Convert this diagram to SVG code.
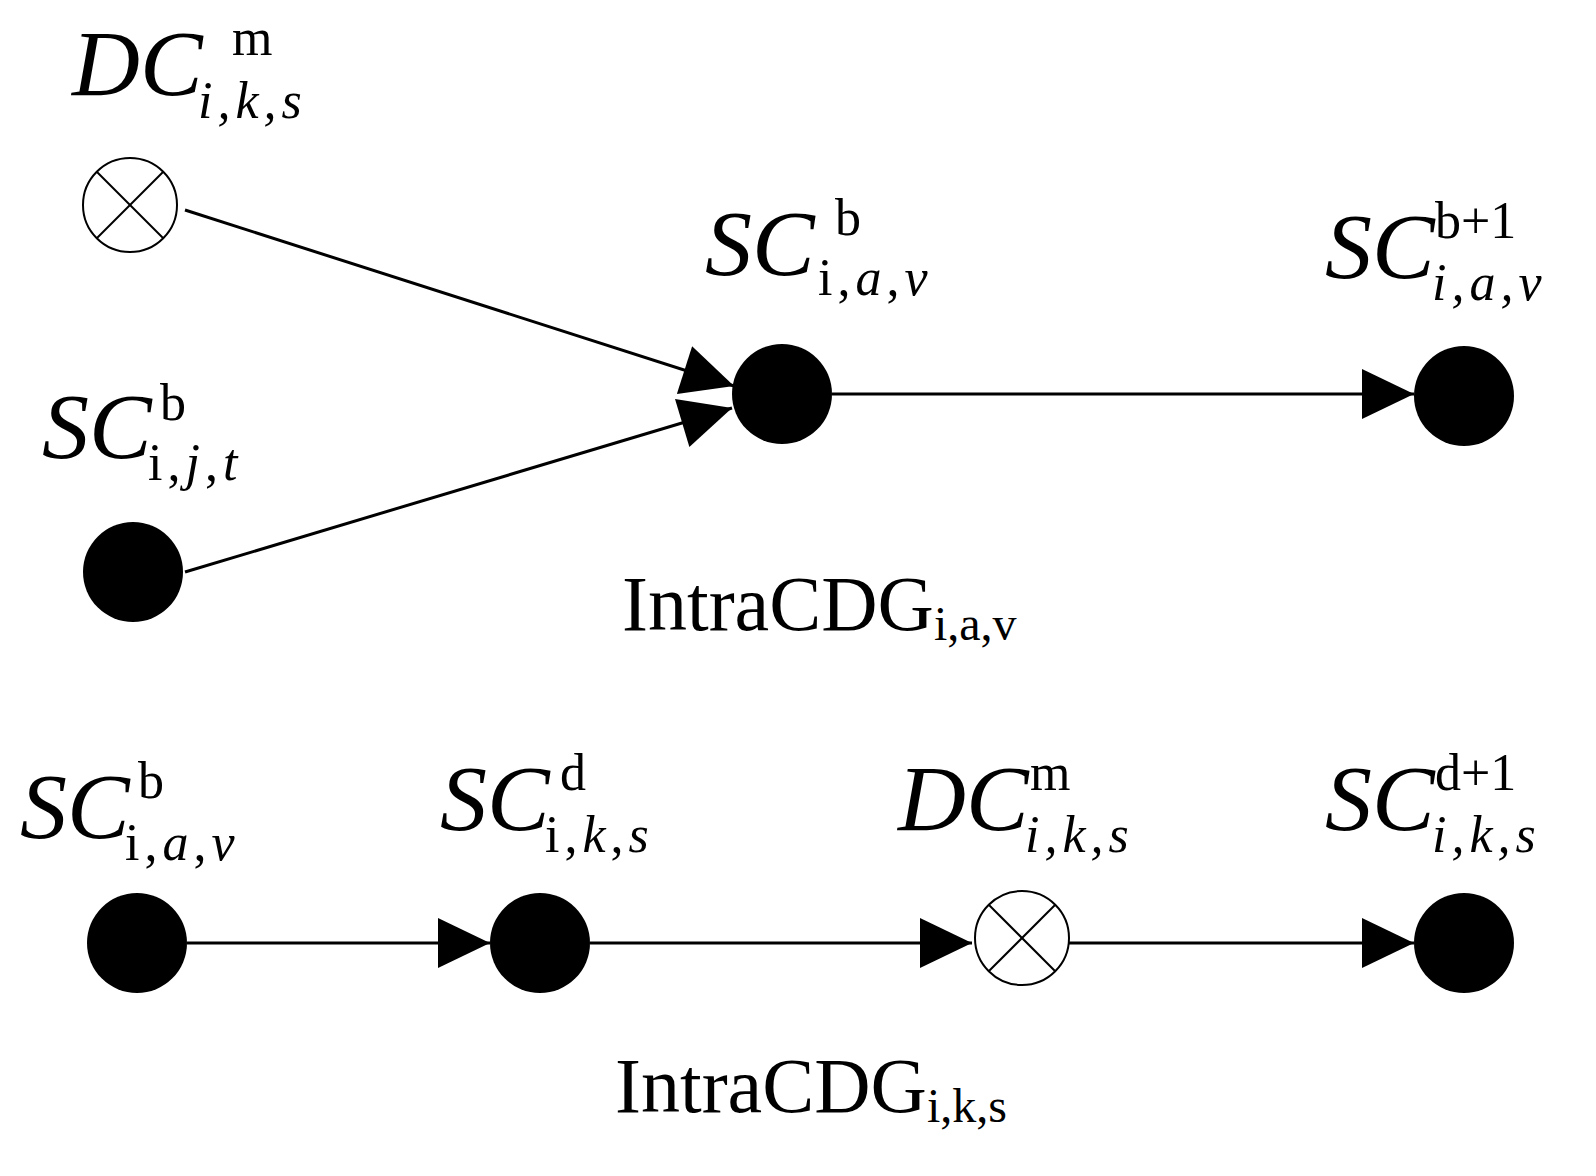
<svg xmlns="http://www.w3.org/2000/svg" width="1596" height="1176" viewBox="0 0 1596 1176">
<style>
.t{font-family:"Liberation Serif",serif;fill:#000}
.big{font-size:94px;font-style:italic}
.sup{font-size:52px}
.sub{font-size:52px;letter-spacing:5px}
.it{font-style:italic}
.lab{font-size:78px}
.lsub{font-size:48px}
.e{stroke:#000;stroke-width:3;fill:none}
.n{fill:#000}
.x{fill:#fff;stroke:#000;stroke-width:2}
</style>
<defs>
<marker id="a" markerUnits="userSpaceOnUse" markerWidth="56" markerHeight="54" refX="54" refY="27" orient="auto" viewBox="0 0 56 54"><path d="M2,2 L54,27 L2,52 Z" fill="#000"/></marker>
</defs>
<g id="edges">
<line class="e" x1="185" y1="210" x2="734" y2="386" marker-end="url(#a)"/>
<line class="e" x1="185" y1="572" x2="732" y2="408" marker-end="url(#a)"/>
<line class="e" x1="832" y1="394" x2="1414" y2="394" marker-end="url(#a)"/>
<line class="e" x1="187" y1="943" x2="490" y2="943" marker-end="url(#a)"/>
<line class="e" x1="590" y1="943" x2="972" y2="943" marker-end="url(#a)"/>
<line class="e" x1="1069" y1="943" x2="1414" y2="943" marker-end="url(#a)"/>
</g>
<g id="dc_top"><circle class="x" cx="130" cy="205" r="47"/><line x1="97" y1="172" x2="163" y2="238" stroke="#000" stroke-width="2"/><line x1="163" y1="172" x2="97" y2="238" stroke="#000" stroke-width="2"/>
<text class="t big" x="72" y="95">DC</text><text class="t sup" x="232" y="55">m</text><text class="t sub it" x="198" y="118">i,k,s</text></g>
<g id="sc_ijt"><circle class="n" cx="133" cy="572" r="50"/>
<text class="t big" x="42" y="458">SC</text><text class="t sup" x="160" y="420">b</text><text class="t sub" x="148" y="480">i,<tspan class="it">j</tspan>,<tspan class="it">t</tspan></text></g>
<g id="sc_iav"><circle class="n" cx="782" cy="394" r="50"/>
<text class="t big" x="705" y="275">SC</text><text class="t sup" x="835" y="235">b</text><text class="t sub" x="818" y="295">i,<tspan class="it">a</tspan>,<tspan class="it">v</tspan></text></g>
<g id="sc_b1"><circle class="n" cx="1464" cy="396" r="50"/>
<text class="t big" x="1325" y="278">SC</text><text class="t sup" x="1435" y="238">b+1</text><text class="t sub it" x="1432" y="300">i,a,v</text></g>
<text class="t lab" x="622" y="630">IntraCDG<tspan class="lsub" dy="10">i,a,v</tspan></text>
<g id="b_sc_iav"><circle class="n" cx="137" cy="943" r="50"/>
<text class="t big" x="20" y="838">SC</text><text class="t sup" x="138" y="798">b</text><text class="t sub" x="125" y="860">i,<tspan class="it">a</tspan>,<tspan class="it">v</tspan></text></g>
<g id="b_sc_iks"><circle class="n" cx="540" cy="943" r="50"/>
<text class="t big" x="440" y="830">SC</text><text class="t sup" x="560" y="790">d</text><text class="t sub" x="545" y="852">i,<tspan class="it">k</tspan>,<tspan class="it">s</tspan></text></g>
<g id="b_dc"><circle class="x" cx="1022" cy="938" r="47"/><line x1="989" y1="905" x2="1055" y2="971" stroke="#000" stroke-width="2"/><line x1="1055" y1="905" x2="989" y2="971" stroke="#000" stroke-width="2"/>
<text class="t big" x="898" y="830">DC</text><text class="t sup" x="1030" y="790">m</text><text class="t sub it" x="1025" y="852">i,k,s</text></g>
<g id="b_sc_d1"><circle class="n" cx="1464" cy="943" r="50"/>
<text class="t big" x="1325" y="830">SC</text><text class="t sup" x="1435" y="790">d+1</text><text class="t sub it" x="1432" y="852">i,k,s</text></g>
<text class="t lab" x="615" y="1112">IntraCDG<tspan class="lsub" dy="10">i,k,s</tspan></text>
</svg>
